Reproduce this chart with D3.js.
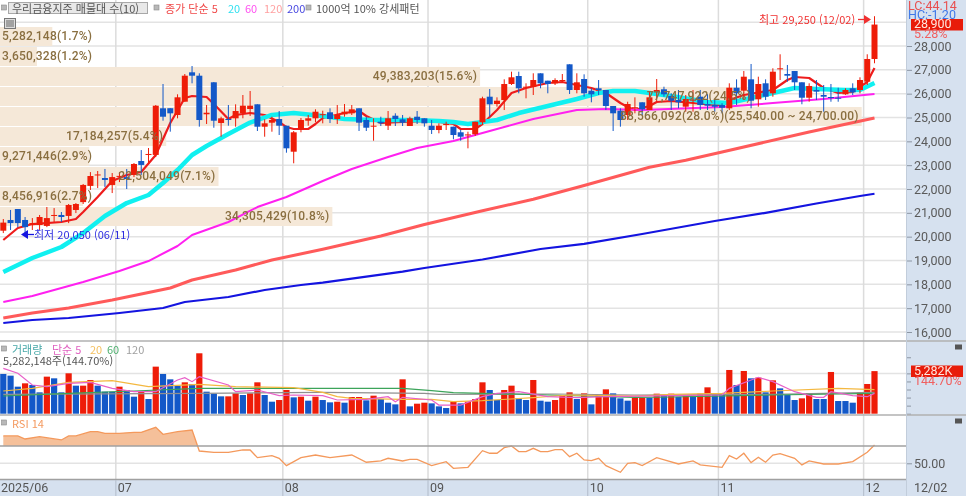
<!DOCTYPE html>
<html lang="ko">
<head>
<meta charset="utf-8">
<title>우리금융지주 일봉</title>
<script src="https://cdn.jsdelivr.net/npm/d3@7"></script>
<style>
  html, body { margin: 0; padding: 0; background: #fff; overflow: hidden; }
  svg { display: block; filter: blur(0.3px); }
  text { font-family: Roboto, "Noto Sans CJK KR", sans-serif; }
  .narrow { font-family: "Liberation Sans Narrow", Roboto, "Noto Sans CJK KR", sans-serif; font-size: 12.5px; }
  .ko { font-family: "Noto Sans CJK KR", sans-serif; font-size: 11px; }
  .band-label { font-size: 12px; font-weight: 500; letter-spacing: 0.2px; fill: #8a6f40; }
</style>
</head>
<body>
<svg id="chart" width="966" height="496"></svg>
<script>
// daily candles
const open = [
  20250,20700,21160,20700,20510,20490,20450,20870,20910,20870,21120,21450,22130,22590,22460,22170,22530,22500,22590,23175,
  23450,23430,25386,25390,25105,25663,26896,26754,25135,26477,24770,24937,24966,25176,25356,25554,24614,24782,24937,24656,
  23565,24505,24865,24966,25120,25218,24937,25134,25176,25386,24895,24630,24823,24656,25075,24924,24643,25033,24966,24656,
  24475,24686,24614,24379,24270,24295,24798,25873,25566,25734,26405,26741,26250,26292,26854,26544,26435,26530,27232,26154,
  26615,26125,26225,26154,25482,25285,25105,25400,25638,25314,26057,26183,25902,25734,25453,25720,25873,25566,25524,25524,
  25386,26250,26125,26602,25763,26435,26015,27040,26825,26950,26477,25830,26154,25944,25860,25830,25973,26225,26154,26502,27455
];
const high = [
  20740,21120,21160,20825,20780,20910,21245,21200,21035,21370,21410,22210,22710,22755,22840,22670,22710,22840,23090,23635,
  23720,25525,26405,25390,25973,26825,27160,26855,25525,26490,25033,25525,25553,25944,26112,25554,24924,25033,25272,24656,
  24433,24980,25105,25344,25285,25386,25525,25566,25525,25386,25033,24966,25033,25272,25176,25105,25033,25272,24966,24895,
  24756,24823,24614,24475,24404,24823,25873,26195,25847,26602,26922,26922,26435,26855,26854,26544,26645,26825,27232,26855,
  26812,26225,26573,26154,25482,25386,25662,25847,25638,26085,26615,26292,26015,26154,25944,26154,26154,25980,25734,25600,
  26435,26602,26950,27245,26712,26602,27064,27652,27203,26950,26477,26435,26573,26363,26405,26250,26225,26435,26687,27652,29250
];
const low = [
  20150,20280,20400,20050,20280,20280,20400,20615,20615,20570,20990,21370,21960,22040,22085,21830,22290,22000,22500,22590,
  23090,23340,24865,24405,24965,25660,26435,24615,24727,24570,24194,24656,24615,24966,25063,24433,24194,24404,24265,23523,
  23078,24379,24656,24798,24756,24768,24727,25033,25105,24433,24433,24026,24643,24475,24643,24643,24643,24727,24615,24308,
  24337,24475,24085,24026,23707,24223,24685,25033,25453,25314,26363,26015,25805,25944,26225,26015,26363,26477,25986,26015,
  25873,25638,25944,25314,24433,24615,24895,25176,25105,25314,25662,25873,25314,25386,25243,25243,25314,25314,25243,25176,
  25314,25524,25734,25386,25453,25734,25873,26573,26502,26154,25554,25662,25734,25243,25662,25662,25950,25944,26015,26363,27275
];
const close = [
  20590,20570,20570,20400,20570,20825,20780,20910,20825,21330,21370,22170,22545,22610,22380,22500,22550,22420,23050,23010,
  23470,25495,25033,25175,25847,26754,26754,24895,25200,24865,24965,24895,25272,25495,25495,24614,24756,24895,24656,23707,
  24379,24895,24966,25243,25140,24937,25105,25243,25344,24782,24572,24656,24756,24966,24937,24782,24966,24895,24756,24475,
  24656,24728,24265,24194,24290,24823,25805,25554,25705,26405,26687,26225,26292,26573,26435,26405,26573,26573,26154,26477,
  26015,25973,26154,25482,25176,24895,25566,25430,25344,25847,26154,25973,25705,25638,25776,25750,25524,25495,25453,25411,
  26250,26015,26712,25705,26405,25873,26922,27064,26754,26477,25830,26322,26085,25873,25830,25790,26154,26057,26573,27455,28900
];

// moving averages, read at the visible bends: bar index + value
const ma5Idx = [0,2,4,8,10,11,13,15,17,19,21,23,25,26,28,29,31,32,34,36,38,39,40,42,43,44,47,49,50,52,55,59,62,63,65,66,68,70,72,75,77,79,81,83,85,86,87,89,90,92,95,98,99,100,102,106,108,109,111,113,115,117,119,120];
const ma5Val = [19860,20363,20530,20615,20740,21035,21664,22335,22587,22713,23426,24769,25818,25902,25860,25566,24937,25105,25188,25105,24811,24600,24517,24517,24727,24979,25188,25272,25063,24769,24811,24853,24727,24517,24517,24727,25314,26028,26238,26447,26489,26363,26238,26028,25608,25440,25314,25482,25650,25692,25608,25524,25524,25734,25944,26154,26573,26699,26657,26238,26028,26070,26489,27077];
const ma20Idx = [0,4,8,11,14,17,20,22,24,26,28,31,34,37,40,44,47,51,56,60,62,64,66,68,71,75,79,82,84,87,92,97,100,103,106,109,112,116,118,120];
const ma20Val = [18517,19105,19566,20153,20866,21412,21748,22251,22797,23426,23804,24307,24790,25105,25188,25063,24937,24895,24895,24853,24811,24727,24811,24895,25188,25482,25776,26028,26112,26112,25902,25650,25608,25818,26028,26238,26196,26154,26154,26447];
const ma60Idx = [0,4,11,16,20,24,26,31,35,39,44,48,53,57,62,66,69,73,79,83,88,99,106,113,120];
const ma60Val = [17258,17510,18097,18559,18978,19608,20069,20615,21244,21664,22335,22839,23342,23720,24014,24349,24601,24937,25314,25356,25314,25440,25608,25776,25986];
const ma120Idx = [0,4,9,15,23,26,32,37,44,52,58,66,73,80,89,94,99,111,120];
const ma120Val = [16587,16796,17006,17342,17846,18181,18601,19021,19470,20027,20510,21089,21567,22146,22910,23204,23552,24391,24979];
const ma200Idx = [0,4,9,16,22,25,31,36,41,44,55,58,66,74,80,88,98,105,112,118,120];
const ma200Val = [16377,16503,16587,16797,17006,17258,17468,17762,17971,18068,18530,18685,19041,19482,19700,20111,20657,21001,21391,21706,21802];

// volume (thousand shares), 1 = red bar, 0 = blue bar
const volume = [
  4927,4720,3353,3767,3560,2650,4595,4388,2650,5010,3478,3478,4181,3478,2732,2732,3353,2940,2111,2732,
  1822,5837,4927,4264,3478,3892,3685,7493,2732,2484,2153,2153,2525,2318,2525,3892,2318,1490,1697,2940,
  2028,2111,1615,2111,1697,1408,1490,1366,2070,2070,1656,2236,1822,1366,1159,4264,911,1242,1366,1283,
  911,704,1490,1283,1490,1822,3892,2940,1697,2940,3478,1904,1697,4181,1615,1490,1697,2236,2650,1822,
  2525,1159,2318,3022,2525,1904,1615,1987,1987,1987,2484,2318,2484,2111,2318,2236,2484,3270,2484,2318,
  5423,3560,5299,4388,4471,2650,4140,3146,2318,1697,1904,2567,1822,1822,5175,1573,1573,1366,2650,3685,5282
];
const volumeUp = [
  0,0,0,1,0,0,1,0,0,1,0,1,1,0,0,0,1,0,0,1,
  0,1,0,0,0,1,0,1,0,0,0,1,1,0,1,1,0,0,1,1,
  0,1,0,1,0,0,1,0,1,1,0,1,0,0,0,1,0,1,1,0,
  0,0,1,0,1,1,1,0,0,1,1,0,0,1,0,0,1,1,1,0,
  1,0,1,1,0,0,0,1,1,0,1,0,1,0,1,0,1,1,0,0,
  1,0,1,0,1,0,1,0,0,0,1,1,0,0,1,0,0,0,1,1,1
];
const volMa5Idx = [0,2,4,6,9,12,15,18,21,24,25,26,27,31,32,35,38,40,44,46,50,53,54,55,59,60,63,66,68,71,75,79,83,92,99,100,104,106,109,112,113,114,117,119,120];
const volMa5Val = [5630,5010,3560,3353,3767,3892,3146,2732,2732,4181,4471,3974,4595,3560,2732,2940,2236,2318,2236,1697,1780,2111,1490,2029,1697,1076,1076,2111,2525,2732,2111,1987,2111,2236,2318,3146,4513,3974,2732,2029,2029,2732,2236,2111,2525];
const volMa20Idx = [0,4,9,15,20,27,32,40,44,46,48,55,59,62,66,73,78,87,92,99,106,115,120];
const volMa20Val = [2815,3146,3892,4099,3353,3643,3353,3229,2650,2111,1904,1780,1780,1490,1615,1987,2318,2194,2401,2525,2815,3146,2981];
const volMa60Idx = [0,9,18,27,44,55,59,62,66,75,87,92,106,120];
const volMa60Val = [2194,2525,2815,3146,3146,3146,2857,2608,2525,2318,2029,2070,2318,2525];
const volMa120Idx = [0,27,44,58,60,76,87,106,120];
const volMa120Val = [2401,2525,2650,2525,2401,2443,2318,2401,2650];

// RSI 14
const rsiIdx = [0,2,3,5,8,9,10,12,13,14,16,18,19,21,22,24,26,27,29,31,33,34,35,37,38,39,41,43,45,48,50,52,53,55,56,57,59,61,62,64,66,67,68,69,70,71,72,73,74,75,76,77,78,79,80,81,82,83,85,86,87,88,90,93,95,96,99,100,101,102,103,104,105,106,107,109,110,111,113,115,117,119,120];
const rsiVal = [81.6,81.6,78.1,80.8,77,81.6,81.6,86.6,86.6,84.7,84.7,85.8,85.8,91.6,83.5,86.6,88.5,64.2,62.7,62.7,65.4,65.4,56.5,58.9,55.8,47.3,56.5,59.6,56.5,59.6,51.2,52.7,55.8,52.7,54.6,54.6,47.3,51.9,44.2,45.4,64.6,61.6,61.6,68.1,70,63.5,63.5,67.3,63.5,63.5,65.8,65.8,57.7,61.6,53.9,53.1,55.8,47.3,39.6,50,50.8,47.3,56.5,49.2,52.7,48.1,45.4,58.9,55,61.6,50.8,56.9,51.2,59.6,61.2,55.8,48.1,52.7,49.2,49.2,51.9,62.7,71.2];

// volume profile bands, top to bottom
const bandPct = [1.7,1.2,15.6,24.5,28.0,5.4,2.9,7.1,2.7,10.8];
const bandLabels = [
  "5,282,148(1.7%)","3,650,328(1.2%)","49,383,203(15.6%)","77,747,922(24.5%)",
  "88,566,092(28.0%)(25,540.00 ~ 24,700.00)","17,184,257(5.4%)","9,271,446(2.9%)",
  "22,504,049(7.1%)","8,456,916(2.7%)","34,305,429(10.8%)"
];
const bandEdges = [28797,27958,27119,26280,25440,24601,23762,22923,22083,21244,20405];

const priceTicks = [16000,17000,18000,19000,20000,21000,22000,23000,24000,25000,26000,27000,28000];
const monthStart = [16,39,59,81,99,119];
const monthLabels = ["07","08","09","10","11","12"];

const svg = d3.select("#chart");
const W = 966, H = 496;
const plotR = 906;

const x = d3.scaleLinear().domain([0, 120]).range([3.3, 874.5]);
const y = d3.scaleLinear().domain([16000, 28000]).range([332, 46]);
const yVol = d3.scaleLinear().domain([0, 8000]).range([413.7, 349.2]);
const yRsi = d3.scaleLinear().domain([30, 70]).range([480.6, 446]);
const bandW = d3.scaleLinear().domain([0, 28]).range([0, 861.7]);

const red = "#ee1c08", blue = "#1358c8";
const gridC = "#e3e3e3";

function hline(yy, color, w, x2) {
  svg.append("line").attr("x1", 0).attr("x2", x2 || plotR).attr("y1", yy).attr("y2", yy)
    .attr("stroke", color).attr("stroke-width", w);
}
function label(tx, ty, txt, color, cls) {
  return svg.append("text").attr("x", tx).attr("y", ty).attr("dominant-baseline", "middle")
    .attr("fill", color).attr("class", cls || "ko").text(txt);
}
function square(sx, sy) {
  svg.append("rect").attr("x", sx).attr("y", sy).attr("width", 5).attr("height", 5)
    .attr("fill", "#b8b8b8").attr("stroke", "#8a8a8a").attr("stroke-width", 0.6);
}

// right scale panel + bottom date strip
svg.append("rect").attr("x", plotR).attr("y", 0).attr("width", W - plotR).attr("height", H).attr("fill", "#d6e1ef");
svg.append("rect").attr("x", 0).attr("y", 480).attr("width", W).attr("height", H - 480).attr("fill", "#d6e1ef");

// grid
d3.range(16000, 30000, 1000).forEach(p => hline(y(p), gridC, 1.5));
hline(yVol(5000), gridC, 1.5);
hline(yRsi(50), gridC, 1.5);
monthStart.forEach(m => {
  const gx = x(m - 0.5);
  svg.append("line").attr("x1", gx).attr("x2", gx).attr("y1", 0).attr("y2", 480)
    .attr("stroke", "#dcdcdc").attr("stroke-width", 1.5);
});

// volume profile bands
svg.append("g").selectAll("rect").data(bandPct).join("rect")
  .attr("x", 0)
  .attr("y", (d, i) => y(bandEdges[i]))
  .attr("width", d => bandW(d))
  .attr("height", (d, i) => y(bandEdges[i + 1]) - y(bandEdges[i]) - 1)
  .attr("fill", "#f5e8d8");

// price moving averages, thin ones go under the thick ones as in the reference
const line = d3.line().x(d => x(d[0])).y(d => y(d[1]));
const priceLines = [
  [ma5Idx, ma5Val, "#ee1c1c", 2.2],
  [ma20Idx, ma20Val, "#10f0f0", 4.5],
  [ma60Idx, ma60Val, "#ff20f0", 2],
  [ma120Idx, ma120Val, "#ff5a5a", 3],
  [ma200Idx, ma200Val, "#1414e0", 2.2]
];
priceLines.forEach(([idx, val, color, w]) => {
  svg.append("path").datum(idx.map((d, i) => [d, val[i]]))
    .attr("fill", "none").attr("stroke", color).attr("stroke-width", w)
    .attr("stroke-linejoin", "round").attr("d", line);
});

// candles
const candle = svg.append("g").selectAll("g").data(close).join("g")
  .attr("fill", (d, i) => d >= open[i] ? red : blue)
  .attr("stroke", (d, i) => d >= open[i] ? red : blue);
candle.append("line")
  .attr("x1", (d, i) => x(i)).attr("x2", (d, i) => x(i))
  .attr("y1", (d, i) => y(high[i])).attr("y2", (d, i) => y(low[i]))
  .attr("stroke-width", 1);
candle.append("rect")
  .attr("x", (d, i) => x(i) - 3).attr("width", 6)
  .attr("y", (d, i) => y(Math.max(open[i], d)))
  .attr("height", (d, i) => Math.max(1, Math.abs(y(open[i]) - y(d))))
  .attr("stroke", "none");

// band labels sit on top of the candles
svg.append("g").selectAll("text").data(bandLabels).join("text")
  .attr("class", "band-label")
  .attr("dominant-baseline", "middle")
  .attr("text-anchor", (d, i) => bandW(bandPct[i]) > 120 ? "end" : "start")
  .attr("x", (d, i) => bandW(bandPct[i]) > 120 ? bandW(bandPct[i]) - 3 : 2)
  .attr("y", (d, i) => (y(bandEdges[i]) + y(bandEdges[i + 1])) / 2)
  .text(d => d);

// high / low notes
label(759, 21, "최고 29,250 (12/02)", "#f03030");
svg.append("line").attr("x1", 858).attr("x2", 866).attr("y1", 19.5).attr("y2", 19.5).attr("stroke", "#f03030").attr("stroke-width", 1.3);
svg.append("path").attr("d", d3.line()([[864, 15], [871, 19.5], [864, 24]])).attr("fill", "#f03030");
label(34, 236, "최저 20,050 (06/11)", "#2d2de0");
svg.append("line").attr("x1", 25).attr("x2", 34).attr("y1", 234.5).attr("y2", 234.5).attr("stroke", "#1414e0").attr("stroke-width", 1.3);
svg.append("path").attr("d", d3.line()([[28, 230], [21, 234.5], [28, 239]])).attr("fill", "#1414e0");

// header
svg.append("rect").attr("x", 8.5).attr("y", 2.5).attr("width", 139).attr("height", 11)
  .attr("fill", "#e8e8e8").attr("stroke", "#a8a8a8");
label(12, 10, "우리금융지주 매물대 수(10)", "#555");
square(1.5, 5); square(154, 5); square(306, 5);
label(165, 10, "종가 단순 5", "#f04848");
label(228, 10, "20", "#30e0f0");
label(245, 10, "60", "#ff50f0");
label(264, 10, "120", "#ffa0a0");
label(287, 10, "200", "#4848e0");
label(316, 10, "1000억 10% 강세패턴", "#555");
// candle-type icon
svg.append("rect").attr("x", 4.5).attr("y", 18.5).attr("width", 11).attr("height", 10).attr("fill", "#ddd").attr("stroke", "#777");
d3.range(7, 15, 2).forEach(ix => svg.append("line").attr("x1", ix).attr("x2", ix).attr("y1", 20).attr("y2", 27).attr("stroke", "#666"));

// price axis
const axisPrice = svg.append("g").attr("transform", `translate(${plotR},0)`)
  .call(d3.axisRight(y).tickValues(priceTicks).tickSize(6).tickPadding(2).tickFormat(d3.format(",")));
axisPrice.select(".domain").remove();
axisPrice.selectAll("line").attr("stroke", "#8c96a3");
axisPrice.selectAll("text").attr("class", "narrow").attr("fill", "#5a5a5a");

label(908, 7, "LC:44.14", "#e85050", "narrow");
label(908, 16, "HC:-1.20", "#3f78e8", "narrow");
svg.append("rect").attr("x", 911).attr("y", 19).attr("width", 52).attr("height", 11.5).attr("fill", "#e81c0a");
label(914, 25, "28,900", "#ffe8e0", "narrow");
label(914, 35, "5.28%", "#f06060", "narrow");

// volume panel
hline(341, "#b0b0b0", 1.5, W);
svg.append("g").selectAll("rect").data(volume).join("rect")
  .attr("x", (d, i) => x(i) - 3.1).attr("width", 6.2)
  .attr("y", d => yVol(d))
  .attr("height", d => yVol(0) - yVol(d))
  .attr("fill", (d, i) => volumeUp[i] ? red : blue);

const volLine = d3.line().x(d => x(d[0])).y(d => yVol(d[1]));
[
  [volMa120Idx, volMa120Val, "#909090"],
  [volMa60Idx, volMa60Val, "#3ca45a"],
  [volMa20Idx, volMa20Val, "#f4b840"],
  [volMa5Idx, volMa5Val, "#e860c8"]
].forEach(([idx, val, color]) => {
  svg.append("path").datum(idx.map((d, i) => [d, val[i]]))
    .attr("fill", "none").attr("stroke", color).attr("stroke-width", 1.2).attr("d", volLine);
});

square(1.5, 346);
label(12, 351, "거래량", "#48a8a8");
label(52, 351, "단순 5", "#e060c0");
label(90, 351, "20", "#f4c060");
label(107, 351, "60", "#50b070");
label(126, 351, "120", "#a0a0a0");
label(3, 362.5, "5,282,148주(144.70%)", "#555");

const axisVol = svg.append("g").attr("transform", `translate(${plotR},0)`)
  .call(d3.axisRight(yVol).tickValues([0, 1000, 2000, 3000, 4000, 5000, 7000]).tickSize(5).tickFormat(""));
axisVol.select(".domain").remove();
axisVol.selectAll("line").attr("stroke", "#8c96a3");
svg.append("rect").attr("x", 911).attr("y", 365.5).attr("width", 52).attr("height", 11.5).attr("fill", "#e81c0a");
label(914, 371.5, "5,282K", "#ffe8e0", "narrow");
label(914, 382, "144.70%", "#f06060", "narrow");
hline(415, "#b0b0b0", 1.5, W);

// RSI panel
const rsiPts = rsiIdx.map((d, i) => [d, rsiVal[i]]);
svg.append("clipPath").attr("id", "above70").append("rect")
  .attr("x", 0).attr("y", 0).attr("width", plotR).attr("height", yRsi(70));
svg.append("path").datum(rsiPts)
  .attr("clip-path", "url(#above70)")
  .attr("fill", "#f5c09a")
  .attr("d", d3.area().x(d => x(d[0])).y0(yRsi(70)).y1(d => yRsi(d[1])));
svg.append("path").datum(rsiPts)
  .attr("fill", "none").attr("stroke", "#f4995c").attr("stroke-width", 1.3)
  .attr("d", d3.line().x(d => x(d[0])).y(d => yRsi(d[1])));
hline(yRsi(70), "#a0a0a0", 1.5);
hline(479.5, "#a0a0a0", 1.5);
square(1.5, 420);
label(12, 425, "RSI 14", "#f49a60");

const axisRsi = svg.append("g").attr("transform", `translate(${plotR},0)`)
  .call(d3.axisRight(yRsi).tickValues([50]).tickSize(6).tickPadding(2).tickFormat(d3.format(".2f")));
axisRsi.select(".domain").remove();
axisRsi.selectAll("line").attr("stroke", "#8c96a3");
axisRsi.selectAll("text").attr("class", "narrow").attr("fill", "#5a5a5a");

// panel close buttons
[347, 421].forEach(by => svg.append("rect").attr("x", 955).attr("y", by - 2.5).attr("width", 7).attr("height", 5).attr("fill", "#555"));

// date strip
label(1, 488.5, "2025/06", "#555", "narrow");
monthStart.forEach((m, i) => {
  const gx = x(m - 0.5);
  svg.append("line").attr("x1", gx).attr("x2", gx).attr("y1", 480).attr("y2", H).attr("stroke", "#b8c2d0").attr("stroke-width", 1.2);
  label(gx + 2, 488.5, monthLabels[i], "#555", "narrow");
});
svg.append("line").attr("x1", plotR + 0.5).attr("x2", plotR + 0.5).attr("y1", 0).attr("y2", H).attr("stroke", "#c2cddb");
label(914, 488.5, "12/02", "#555", "narrow");
</script>
</body>
</html>
